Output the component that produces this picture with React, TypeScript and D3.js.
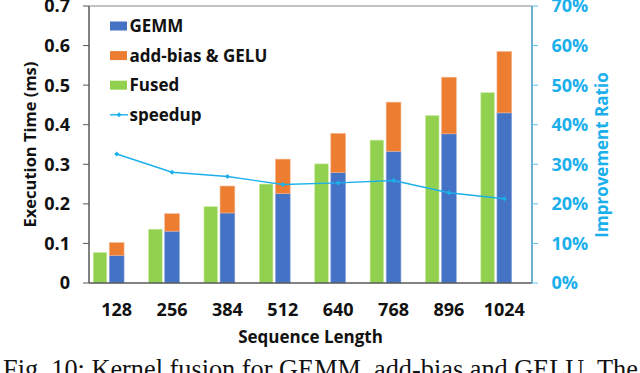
import { scaleBand, scaleLinear, line } from 'd3'

const width = 640,
      height = 373,
      margin = { top: 6, right: 108, bottom: 90, left: 89 },
      innerWidth = width - margin.left - margin.right,
      innerHeight = height - margin.top - margin.bottom

const categories = ['128', '256', '384', '512', '640', '768', '896', '1024']
const gemm = [0.070, 0.131, 0.177, 0.226, 0.279, 0.333, 0.377, 0.430]
const addBias = [0.032, 0.044, 0.068, 0.087, 0.099, 0.124, 0.143, 0.155]
const fused = [0.077, 0.136, 0.193, 0.250, 0.301, 0.361, 0.423, 0.481]
const speedup = [0.326, 0.280, 0.269, 0.249, 0.253, 0.259, 0.228, 0.213]
const leftTicks = [0, 0.1, 0.2, 0.3, 0.4, 0.5, 0.6, 0.7]
const rightTicks = [0, 0.1, 0.2, 0.3, 0.4, 0.5, 0.6, 0.7]

const colors = { gemm: '#4472C4', addBias: '#ED7D31', fused: '#92D050', speedup: '#1BB0EC' }
const font = '"Open Sans", Lato, sans-serif'
const tickSize = 18,
      labelSize = 16.5

const x = scaleBand().domain(categories).range([0, innerWidth])
const y = scaleLinear().domain([0, 0.7]).range([innerHeight, 0])
const y2 = scaleLinear().domain([0, 0.7]).range([innerHeight, 0])

const bw = x.bandwidth()
const center = (c: string) => (x(c) as number) + bw / 2

const speedLine = line<number>()
  .x((d, i) => center(categories[i]))
  .y(d => y2(d))

const legend = [
  { label: 'GEMM', color: colors.gemm, type: 'rect' },
  { label: 'add-bias & GELU', color: colors.addBias, type: 'rect' },
  { label: 'Fused', color: colors.fused, type: 'rect' },
  { label: 'speedup', color: colors.speedup, type: 'line' },
]

export default function App() {
  return (
    <svg width={width} height={height} style={{ display: 'block', position: 'absolute', left: 0, top: 0, background: '#fff' }}>
      <g transform={`translate(${margin.left}, ${margin.top})`} fontFamily={font} fontWeight='bold'>

        {/* top border of plot area */}
        <line x1={0} x2={innerWidth} y1={0} y2={0} stroke='#888' strokeWidth={1} />

        {/* bars */}
        {categories.map((c, i) => {
          const cx = center(c)
          return (
            <g key={c}>
              <rect x={cx - bw * 0.424} width={bw * 0.245} y={y(fused[i])} height={innerHeight - y(fused[i])}
                fill={colors.fused} stroke='#c8ec9f' strokeWidth={0.6} />
              <rect x={cx - bw * 0.133} width={bw * 0.266} y={y(gemm[i])} height={innerHeight - y(gemm[i])}
                fill={colors.gemm} stroke='#8aa6dc' strokeWidth={0.6} />
              <rect x={cx - bw * 0.133} width={bw * 0.266} y={y(gemm[i] + addBias[i])} height={y(gemm[i]) - y(gemm[i] + addBias[i])}
                fill={colors.addBias} stroke='#f5b48a' strokeWidth={0.6} />
            </g>
          )
        })}

        {/* speedup line */}
        <path d={speedLine(speedup) as string} fill='none' stroke={colors.speedup} strokeWidth={1.4} />
        {speedup.map((d, i) => (
          <path key={i} d='M0,-2.5L2.5,0L0,2.5L-2.5,0Z' fill={colors.speedup}
            transform={`translate(${center(categories[i])}, ${y2(d)})`} />
        ))}

        {/* left axis */}
        <line x1={0} x2={0} y1={0} y2={innerHeight} stroke='#595959' strokeWidth={1.5} />
        {leftTicks.map(t => (
          <g key={t} transform={`translate(0, ${y(t)})`}>
            <line x1={-6} x2={0} stroke='#595959' strokeWidth={1} />
            <text x={-19} dy='0.36em' textAnchor='end' fontSize={tickSize} fill='#111'>{t === 0 ? '0' : t.toFixed(1)}</text>
          </g>
        ))}

        {/* bottom axis */}
        <line x1={0} x2={innerWidth} y1={innerHeight} y2={innerHeight} stroke='#595959' strokeWidth={1.5} />
        {categories.map(c => (
          <text key={c} x={center(c)} y={innerHeight + 27} dy='0.36em' textAnchor='middle' fontSize={tickSize} fill='#111'>{c}</text>
        ))}
        <text x={innerWidth / 2} y={innerHeight + 54} dy='0.36em' textAnchor='middle' fontSize={labelSize + 0.5} fill='#111'>Sequence Length</text>

        {/* right axis */}
        <line x1={innerWidth} x2={innerWidth} y1={0} y2={innerHeight} stroke='#3E94BE' strokeWidth={1.5} />
        {rightTicks.map(t => (
          <g key={t} transform={`translate(${innerWidth}, ${y2(t)})`}>
            <line x1={0} x2={6} stroke='#5CC4EE' strokeWidth={1} />
            <text x={19.5} dy='0.36em' textAnchor='start' fontSize={tickSize} fill='#1BB0EC'>{Math.round(t * 100) + '%'}</text>
          </g>
        ))}

        {/* axis titles */}
        <text transform={`translate(${-59}, ${innerHeight / 2}) rotate(-90)`} dy='0.36em' textAnchor='middle' fontSize={labelSize} fill='#111'>Execution Time (ms)</text>
        <text transform={`translate(${innerWidth + 70}, ${149}) rotate(-90)`} dy='0.36em' textAnchor='middle' fontSize={labelSize + 0.5} fill='#1BB0EC'>Improvement Ratio</text>

        {/* legend */}
        {legend.map((l, i) => (
          <g key={l.label} transform={`translate(21, ${20 + i * 29.6})`}>
            {l.type === 'rect'
              ? <rect x={0} y={-4.5} width={17} height={9} fill={l.color} />
              : <g>
                  <line x1={0} x2={18} stroke={l.color} strokeWidth={1.4} />
                  <path d='M0,-2.5L2.5,0L0,2.5L-2.5,0Z' fill={l.color} transform='translate(9,0)' />
                </g>}
            <text x={19.5} dy='0.36em' fontSize={labelSize + 0.5} fill='#111'>{l.label}</text>
          </g>
        ))}
      </g>

      {/* caption */}
      <text x={3} y={378} fontFamily='"Liberation Serif", "Times New Roman", serif' fontSize={26.3} fill='#111'>
        Fig. 10: Kernel fusion for GEMM, add-bias and GELU. The
      </text>
    </svg>
  )
}
